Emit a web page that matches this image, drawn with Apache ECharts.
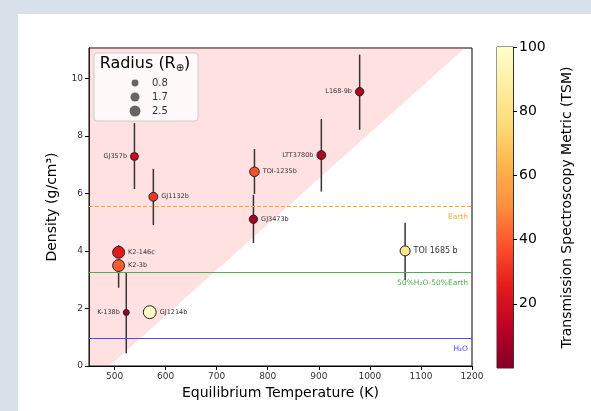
<!DOCTYPE html>
<html>
<head>
<meta charset="utf-8">
<script src="https://cdn.jsdelivr.net/npm/echarts@6/dist/echarts.min.js"></script>
<style>html,body{margin:0;padding:0;background:#d8e1ea;}#c{width:591px;height:411px;}</style>
</head>
<body>
<div id="c"></div>
<script>
// ---- data ----
const planets   = ['L168-9b','LTT3780b','TOI-1235b','GJ3473b','TOI 1685 b','GJ357b','GJ1132b','K2-146c','K2-3b','K-138b','GJ1214b'];
const teq       = [980, 905, 774, 772, 1069, 539, 576, 508, 508, 523, 569];
const density   = [9.53, 7.33, 6.75, 5.10, 4.00, 7.28, 5.88, 3.95, 3.49, 1.86, 1.87];
const densLow   = [8.21, 6.06, 5.98, 4.27, 2.99, 6.15, 4.90, 3.75, 2.72, 0.44, 1.72];
const densHigh  = [10.82, 8.58, 7.54, 5.95, 4.98, 8.44, 6.85, 4.20, 3.70, 3.25, 2.05];
const radius    = [1.4, 1.6, 1.9, 1.4, 2.1, 1.2, 1.6, 2.9, 2.9, 0.4, 3.3];
const tsm       = [10, 10, 38, 8, 83, 18, 32, 25, 40, 5, 98];
const labelSide = ['left','left','right','right','right','left','right','right','right','left','right'];

const refNames  = ['Earth', '50%H\u2082O-50%Earth', 'H\u2082O'];
const refValues = [5.55, 3.27, 0.98];
const refColors = ['#ffa726', '#4caf50', '#4a4aff'];
const refTypes  = ['dashed', 'solid', 'solid'];

const pinkT = [450, 490, 1186, 450];
const pinkD = [0, 0, 11.05, 11.05];

const legendRadii = [0.8, 1.7, 2.5];
const xTicks = [500, 600, 700, 800, 900, 1000, 1100, 1200];
const cbTicks = [20, 40, 60, 80, 100];
const cmap = ['#800026','#bd0026','#e31a1c','#fc4e2a','#fd8d3c','#feb24c','#fed976','#ffeda0','#ffffcc'];

function sizeOf(r) { return 5 + 2.4 * r; }

const chart = echarts.init(document.getElementById('c'), null, {renderer: 'canvas'});
const FONT = 'DejaVu Sans';

const scatterData = planets.map((p, i) => ({
  value: [teq[i], density[i], tsm[i], radius[i]],
  name: p,
  label: {
    show: true, position: labelSide[i], distance: 3,
    formatter: p, color: '#333', fontFamily: FONT,
    fontSize: p === 'TOI 1685 b' ? 8 : 6.5
  }
}));

const legendEls = [{
  type: 'rect', shape: {x: 94, y: 53, width: 104, height: 68, r: 3},
  style: {fill: 'rgba(255,255,255,0.8)', stroke: '#cccccc', lineWidth: 1}, z: 100
}, {
  type: 'text', x: 145, y: 64,
  style: {text: 'Radius (R{s|\u2295})', rich: {s: {fontSize: 10, padding: [9, 0, 0, 0], fontFamily: FONT, fill: '#000'}},
          fontSize: 16, fontFamily: FONT, fill: '#000', align: 'center', verticalAlign: 'middle'}, z: 101
}];
legendRadii.forEach((r, k) => {
  const y = 83 + k * 14;
  legendEls.push({type: 'circle', shape: {cx: 135, cy: y, r: sizeOf(r) / 2}, style: {fill: '#666'}, z: 101});
  legendEls.push({type: 'text', x: 152, y: y, style: {text: r.toFixed(1), fontSize: 10, fontFamily: FONT, fill: '#333', verticalAlign: 'middle'}, z: 101});
});

const option = {
  backgroundColor: '#d8e1ea',
  animation: false,
  textStyle: {fontFamily: FONT},
  graphic: [{type: 'rect', shape: {x: 18, y: 14, width: 600, height: 420}, style: {fill: '#ffffff'}, z: -10, silent: true}].concat(legendEls),
  grid: [
    {left: 89, right: 119, top: 48, bottom: 45, show: true, borderColor: '#000', borderWidth: 1, backgroundColor: 'transparent'},
    {left: 497, width: 16, top: 47, bottom: 43, show: true, borderColor: '#333', borderWidth: 1}
  ],
  xAxis: [{
    gridIndex: 0, type: 'value', min: 450, max: 1200,
    name: 'Equilibrium Temperature (K)', nameLocation: 'middle', nameGap: 19,
    nameTextStyle: {fontSize: 14, color: '#000', fontFamily: FONT},
    axisLine: {lineStyle: {color: '#000'}},
    axisTick: {show: true, length: 4, lineStyle: {color: '#000'}, customValues: xTicks},
    axisLabel: {fontSize: 9, color: '#333', margin: 6, customValues: xTicks, formatter: v => String(v)},
    splitLine: {show: false}
  }, {
    gridIndex: 1, type: 'category', data: ['c'], show: false
  }],
  yAxis: [{
    gridIndex: 0, type: 'value', min: 0, max: 11.05, interval: 2,
    name: 'Density (g/cm\u00b3)', nameLocation: 'middle', nameGap: 30, nameRotate: 90,
    nameTextStyle: {fontSize: 14, color: '#000', fontFamily: FONT},
    axisLine: {show: true, lineStyle: {color: '#000'}},
    axisTick: {show: true, length: 4, lineStyle: {color: '#000'}},
    axisLabel: {fontSize: 9, color: '#333', margin: 6, showMaxLabel: false,
      formatter: v => (v % 2 === 0 ? String(v) : '')},
    splitLine: {show: false}
  }, {
    gridIndex: 1, type: 'value', min: 0, max: 100, position: 'right',
    name: 'Transmission Spectroscopy Metric (TSM)', nameLocation: 'middle', nameGap: 47, nameRotate: 90,
    nameTextStyle: {fontSize: 14, color: '#000', fontFamily: FONT},
    axisLine: {show: true, lineStyle: {color: '#333'}},
    axisTick: {show: true, length: 4, lineStyle: {color: '#000'}, customValues: cbTicks},
    axisLabel: {fontSize: 14, color: '#000', margin: 6, customValues: cbTicks},
    splitLine: {show: false}
  }],
  visualMap: [{
    type: 'continuous', show: false, min: 0, max: 100, dimension: 2, seriesIndex: 3,
    inRange: {color: cmap}
  }],
  series: [
    {
      type: 'custom', xAxisIndex: 0, yAxisIndex: 0, clip: true, z: 1, silent: true,
      data: [0],
      renderItem: (params, api) => {
        const pts = pinkT.map((t, i) => api.coord([t, pinkD[i]]));
        return {type: 'polygon', shape: {points: pts}, style: {fill: 'rgba(255,120,120,0.22)'}};
      }
    },
    {
      type: 'line', xAxisIndex: 0, yAxisIndex: 0, data: [], z: 2, silent: true,
      markLine: {
        symbol: 'none', silent: true,
        data: refValues.map((v, i) => ({
          yAxis: v,
          lineStyle: {color: refColors[i], type: refTypes[i], width: 1},
          label: {show: true, formatter: refNames[i], position: 'insideEndBottom', color: refColors[i], fontSize: 7.5, fontFamily: FONT, distance: [4, 7]}
        }))
      }
    },
    {
      type: 'custom', xAxisIndex: 0, yAxisIndex: 0, z: 3, silent: true,
      data: planets.map((p, i) => [teq[i], densLow[i], densHigh[i]]),
      renderItem: (params, api) => {
        const lo = api.coord([api.value(0), api.value(1)]);
        const hi = api.coord([api.value(0), api.value(2)]);
        return {type: 'line', shape: {x1: lo[0], y1: lo[1], x2: hi[0], y2: hi[1]}, style: {stroke: '#333', lineWidth: 1.5}};
      }
    },
    {
      type: 'scatter', xAxisIndex: 0, yAxisIndex: 0, z: 5,
      data: scatterData,
      symbolSize: v => sizeOf(v[3]),
      itemStyle: {borderColor: '#222', borderWidth: 1, opacity: 1}
    },
    {
      type: 'bar', xAxisIndex: 1, yAxisIndex: 1, data: [100], barWidth: '100%', silent: true,
      itemStyle: {color: new echarts.graphic.LinearGradient(0, 0, 0, 1,
        cmap.slice().reverse().map((c, i, a) => ({offset: i / (a.length - 1), color: c})))}
    }
  ]
};
chart.setOption(option);
</script>
</body>
</html>
